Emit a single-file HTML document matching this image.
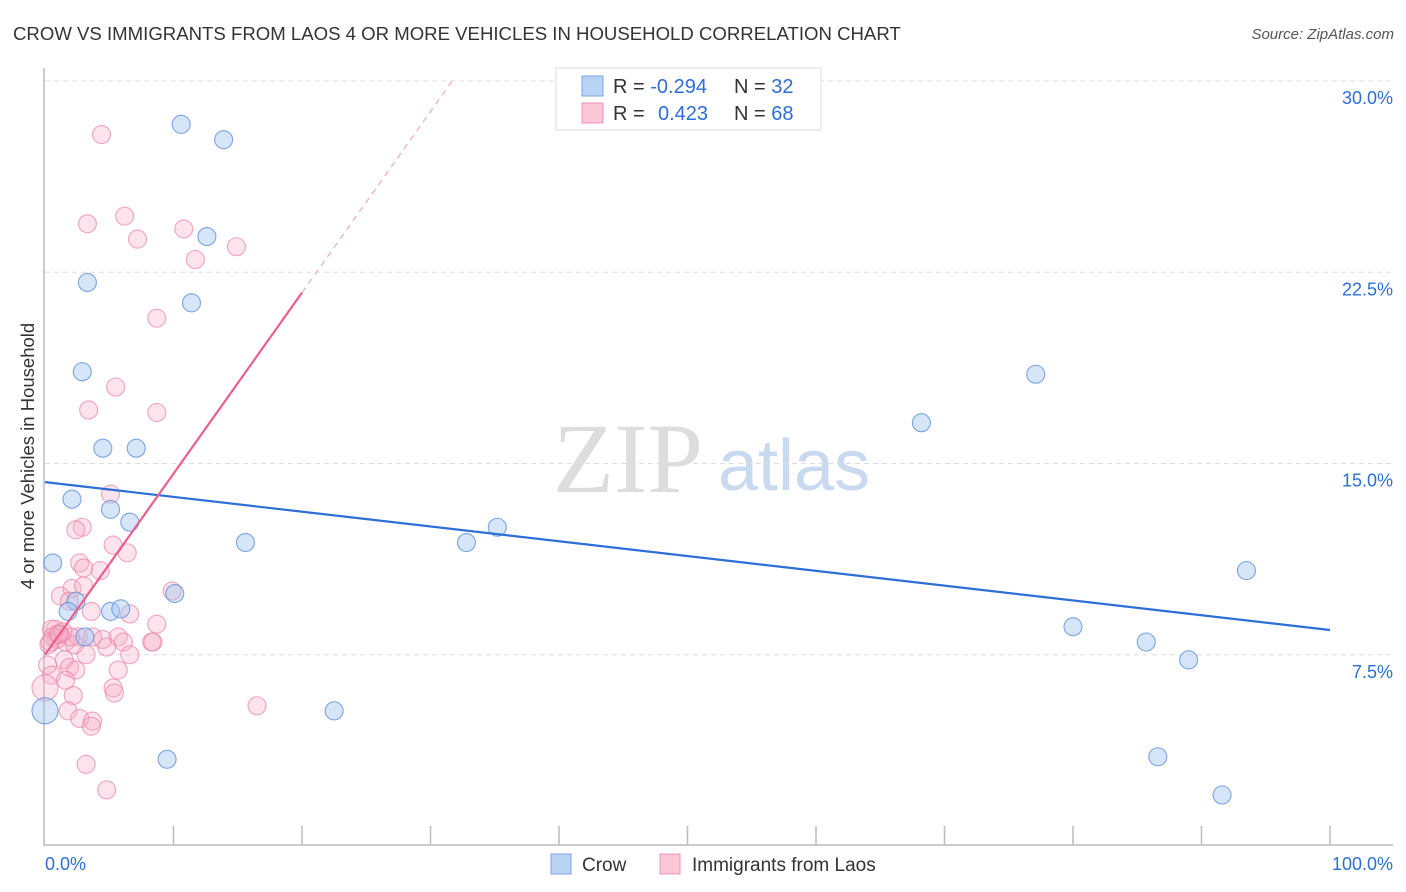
<!DOCTYPE html>
<html><head><meta charset="utf-8"><style>
body{margin:0;background:#fff;font-family:"Liberation Sans",sans-serif;}
svg{display:block}
</style></head><body>
<svg id="chart" width="1406" height="892" xmlns="http://www.w3.org/2000/svg">
<text x="13" y="40" font-size="18.6" fill="#333">CROW VS IMMIGRANTS FROM LAOS 4 OR MORE VEHICLES IN HOUSEHOLD CORRELATION CHART</text>
<text x="1394" y="39" font-size="15" fill="#555" font-style="italic" text-anchor="end">Source: ZipAtlas.com</text>
<text x="553" y="492" font-size="100" fill="#ddd" font-family="Liberation Serif,serif">ZIP</text>
<text x="718" y="490" font-size="72" fill="#c9d9f0">atlas</text>
<text transform="translate(34,456) rotate(-90)" font-size="18.5" fill="#333" text-anchor="middle">4 or more Vehicles in Household</text>
<g id="grid"></g><g id="axes"></g><g id="pts"></g><g id="lines"></g>
<g>
<rect x="556" y="68" width="265" height="62" fill="#fff" stroke="#ddd"/>
<rect x="582" y="76" width="21" height="20" fill="#b9d3f5" stroke="#7ba6e2"/>
<rect x="582" y="103" width="21" height="20" fill="#fbc6d6" stroke="#ee94b2"/>
<text x="613" y="93" font-size="20" fill="#333">R = <tspan fill="#2d6fd6">-0.294</tspan></text>
<text x="734" y="93" font-size="20" fill="#333">N = <tspan fill="#2d6fd6">32</tspan></text>
<text x="613" y="120" font-size="20" fill="#333">R = <tspan fill="#2d6fd6" x="658">0.423</tspan></text>
<text x="734" y="120" font-size="20" fill="#333">N = <tspan fill="#2d6fd6">68</tspan></text>
</g>
<g>
<rect x="551" y="854" width="20" height="20" fill="#b9d3f5" stroke="#7ba6e2"/>
<text x="582" y="871" font-size="19" fill="#333">Crow</text>
<rect x="660" y="854" width="20" height="20" fill="#fbc6d6" stroke="#ee94b2"/>
<text x="692" y="871" font-size="19" fill="#333">Immigrants from Laos</text>
</g>
</svg>
<script>
const yTicks=[7.5,15,22.5,30];
const yTickLabels=["7.5%","15.0%","22.5%","30.0%"];
const xEndLabels=["0.0%","100.0%"];
const crowX=[10.6,13.9,12.6,3.3,11.4,2.9,4.5,7.1,2.1,5.1,6.6,15.6,0.6,10.1,2.4,5.1,5.9,22.5,9.5,0,68.2,77.1,32.8,35.2,80.0,85.7,89.0,93.5,86.6,91.6,1.8,3.1];
const crowY=[28.3,27.7,23.9,22.1,21.3,18.6,15.6,15.6,13.6,13.2,12.7,11.9,11.1,9.9,9.6,9.2,9.3,5.3,3.4,5.3,16.6,18.5,11.9,12.5,8.6,8.0,7.3,10.8,3.5,2.0,9.2,8.2];
const laosX=[4.4,6.2,3.3,7.2,10.8,14.9,11.7,8.7,5.5,3.4,8.7,5.1,2.9,2.4,5.3,6.4,2.7,3.0,4.3,2.1,3.0,1.2,1.9,3.6,6.6,8.7,9.9,0.8,1.2,1.6,2.6,3.7,4.5,5.7,4.8,6.1,6.6,8.3,1.5,3.2,0.2,1.9,2.4,5.7,0.5,1.6,0,5.3,5.4,2.2,1.8,2.7,3.7,3.6,16.5,3.2,4.8,0.5,0.9,0.3,8.4,2.3,1.0,0.6,1.4,2.0,0.4,1.1];
const laosY=[27.9,24.7,24.4,23.8,24.2,23.5,23.0,20.7,18.0,17.1,17.0,13.8,12.5,12.4,11.8,11.5,11.1,10.9,10.8,10.1,10.2,9.8,9.6,9.2,9.1,8.7,10.0,8.5,8.3,8.0,8.2,8.2,8.1,8.2,7.8,8.0,7.5,8.0,7.3,7.5,7.1,7.0,6.9,6.9,6.7,6.5,6.2,6.2,6.0,5.9,5.3,5.0,4.9,4.7,5.5,3.2,2.2,8.5,8.1,7.9,8.0,7.9,8.3,8.2,8.4,8.2,8.0,8.3];
const crowBig=[19];
const laosBig=[46];
const crowLine=[14.27,8.47];   // y at x=0 and x=100
const laosLine=[7.5,21.7,20]; // y at x=0, y at x=solidEnd, solidEnd x
const X=v=>45+v*12.85, Y=v=>846-v*25.5;
const NS="http://www.w3.org/2000/svg";
function mk(tag,attrs,parent){const e=document.createElementNS(NS,tag);for(const k in attrs)e.setAttribute(k,attrs[k]);document.getElementById(parent).appendChild(e);return e;}
yTicks.forEach((t,i)=>{
 const l=mk('line',{x1:45,x2:1393,y1:Y(t),y2:Y(t),stroke:'#ddd','stroke-dasharray':'5,4'},'grid');
 
 
 const tx=mk('text',{x:1393,y:Y(t)+23,'font-size':18,fill:'#2d6fd6','text-anchor':'end'},'grid');
 tx.textContent=yTickLabels[i];
 
 
});
mk('line',{x1:44,x2:44,y1:68,y2:846,stroke:'#bbb','stroke-width':1.5},'axes');
mk('line',{x1:44,x2:1393,y1:845,y2:845,stroke:'#bbb','stroke-width':1.5},'axes');
for(let i=1;i<=10;i++){const t=mk('line',{x1:X(i*10),x2:X(i*10),y1:826,y2:845,stroke:'#bbb','stroke-width':1.5},'axes');
 
 }
const xl0=mk('text',{x:45,y:870,'font-size':18,fill:'#2d6fd6'},'axes');xl0.textContent=xEndLabels[0];


const xl1=mk('text',{x:1393,y:870,'font-size':18,fill:'#2d6fd6','text-anchor':'end'},'axes');xl1.textContent=xEndLabels[1];


laosX.forEach((v,i)=>{const c=mk('circle',{cx:X(v),cy:Y(laosY[i]),r:laosBig.includes(i)?13:9,fill:'rgba(247,175,200,0.35)',stroke:'rgba(232,130,165,0.7)','stroke-width':1.1},'pts');
 
 });
crowX.forEach((v,i)=>{const c=mk('circle',{cx:X(v),cy:Y(crowY[i]),r:crowBig.includes(i)?13:9,fill:'rgba(165,198,240,0.45)',stroke:'rgba(95,145,220,0.8)','stroke-width':1.1},'pts');
 
 });
const bl=mk('line',{x1:X(0),y1:Y(crowLine[0]),x2:X(100),y2:Y(crowLine[1]),stroke:'#2d6fd6','stroke-width':2.2},'lines');


const pl=mk('line',{x1:X(0),y1:Y(laosLine[0]),x2:X(laosLine[2]),y2:Y(laosLine[1]),stroke:'#e8608c','stroke-width':2.2},'lines');


const slope=(laosLine[1]-laosLine[0])/laosLine[2];const xe=(30.1-laosLine[0])/slope;
const pd=mk('line',{x1:X(laosLine[2]),y1:Y(laosLine[1]),x2:X(xe),y2:Y(laosLine[0]+slope*xe),stroke:'#f0a8c0','stroke-width':1.2,'stroke-dasharray':'6,5'},'lines');


</script>
</body></html>
